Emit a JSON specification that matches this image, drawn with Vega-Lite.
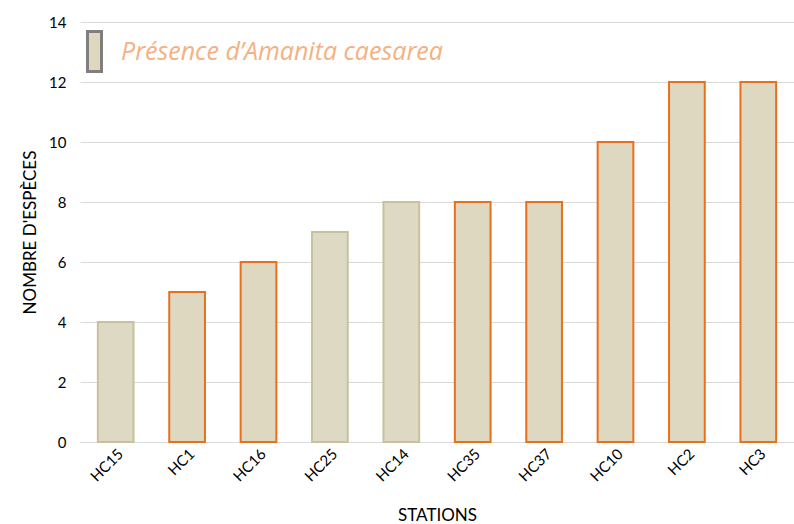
{
  "$schema": "https://vega.github.io/schema/vega-lite/v6.json",
  "width": 714,
  "height": 420,
  "autosize": {"type": "none"},
  "padding": {"left": 80, "top": 22, "right": 0, "bottom": 82},
  "background": "white",
  "config": {
    "font": "Lato",
    "view": {"stroke": null}
  },
  "data": {
    "values": [
      {"station": "HC15", "n": 4, "presence": "Absence"},
      {"station": "HC1", "n": 5, "presence": "Présence d’Amanita caesarea"},
      {"station": "HC16", "n": 6, "presence": "Présence d’Amanita caesarea"},
      {"station": "HC25", "n": 7, "presence": "Absence"},
      {"station": "HC14", "n": 8, "presence": "Absence"},
      {"station": "HC35", "n": 8, "presence": "Présence d’Amanita caesarea"},
      {"station": "HC37", "n": 8, "presence": "Présence d’Amanita caesarea"},
      {"station": "HC10", "n": 10, "presence": "Présence d’Amanita caesarea"},
      {"station": "HC2", "n": 12, "presence": "Présence d’Amanita caesarea"},
      {"station": "HC3", "n": 12, "presence": "Présence d’Amanita caesarea"}
    ]
  },
  "mark": {"type": "bar", "strokeWidth": 2, "fillOpacity": 1},
  "encoding": {
    "x": {
      "field": "station",
      "type": "nominal",
      "sort": null,
      "scale": {"paddingInner": 0.5, "paddingOuter": 0.25},
      "axis": {
        "title": "STATIONS",
        "titleFont": "Lato",
        "titleFontSize": 17,
        "titleFontWeight": "normal",
        "titleColor": "#000000",
        "titlePadding": 23,
        "labelAngle": -45,
        "labelFontSize": 15,
        "labelColor": "#000000",
        "labelPadding": 4,
        "ticks": false,
        "domainColor": "#d9d9d9",
        "domainWidth": 1
      }
    },
    "y": {
      "field": "n",
      "type": "quantitative",
      "scale": {"domain": [0, 14], "nice": false},
      "axis": {
        "title": "NOMBRE D'ESPÈCES",
        "titleFont": "Lato",
        "titleFontSize": 17,
        "titleFontWeight": "normal",
        "titleColor": "#000000",
        "titlePadding": 9,
        "values": [0, 2, 4, 6, 8, 10, 12, 14],
        "labelFontSize": 15,
        "labelColor": "#000000",
        "labelPadding": 14,
        "ticks": false,
        "domain": false,
        "gridColor": "#d9d9d9",
        "gridWidth": 1
      }
    },
    "stroke": {
      "condition": {"test": "datum.presence === 'Absence'", "value": "#c8c19e"},
      "value": "#e8701a"
    },
    "fill": {
      "field": "presence",
      "type": "nominal",
      "scale": {
        "domain": ["Présence d’Amanita caesarea", "Absence"],
        "range": ["#ded8c0", "#ddd9c3"]
      },
      "legend": {
        "title": null,
        "orient": "none",
        "legendX": -7,
        "legendY": 8,
        "padding": 0,
        "values": ["Présence d’Amanita caesarea"],
        "symbolType": "M-0.35,-1H0.35V1H-0.35Z",
        "symbolSize": 1600,
        "symbolStrokeColor": "#7f7f7f",
        "symbolStrokeWidth": 3,
        "symbolOpacity": 1,
        "labelFont": "Open Sans",
        "labelFontSize": 25,
        "labelFontStyle": "italic",
        "labelColor": "#f4b183",
        "labelOffset": 5,
        "labelLimit": 0
      }
    }
  }
}
